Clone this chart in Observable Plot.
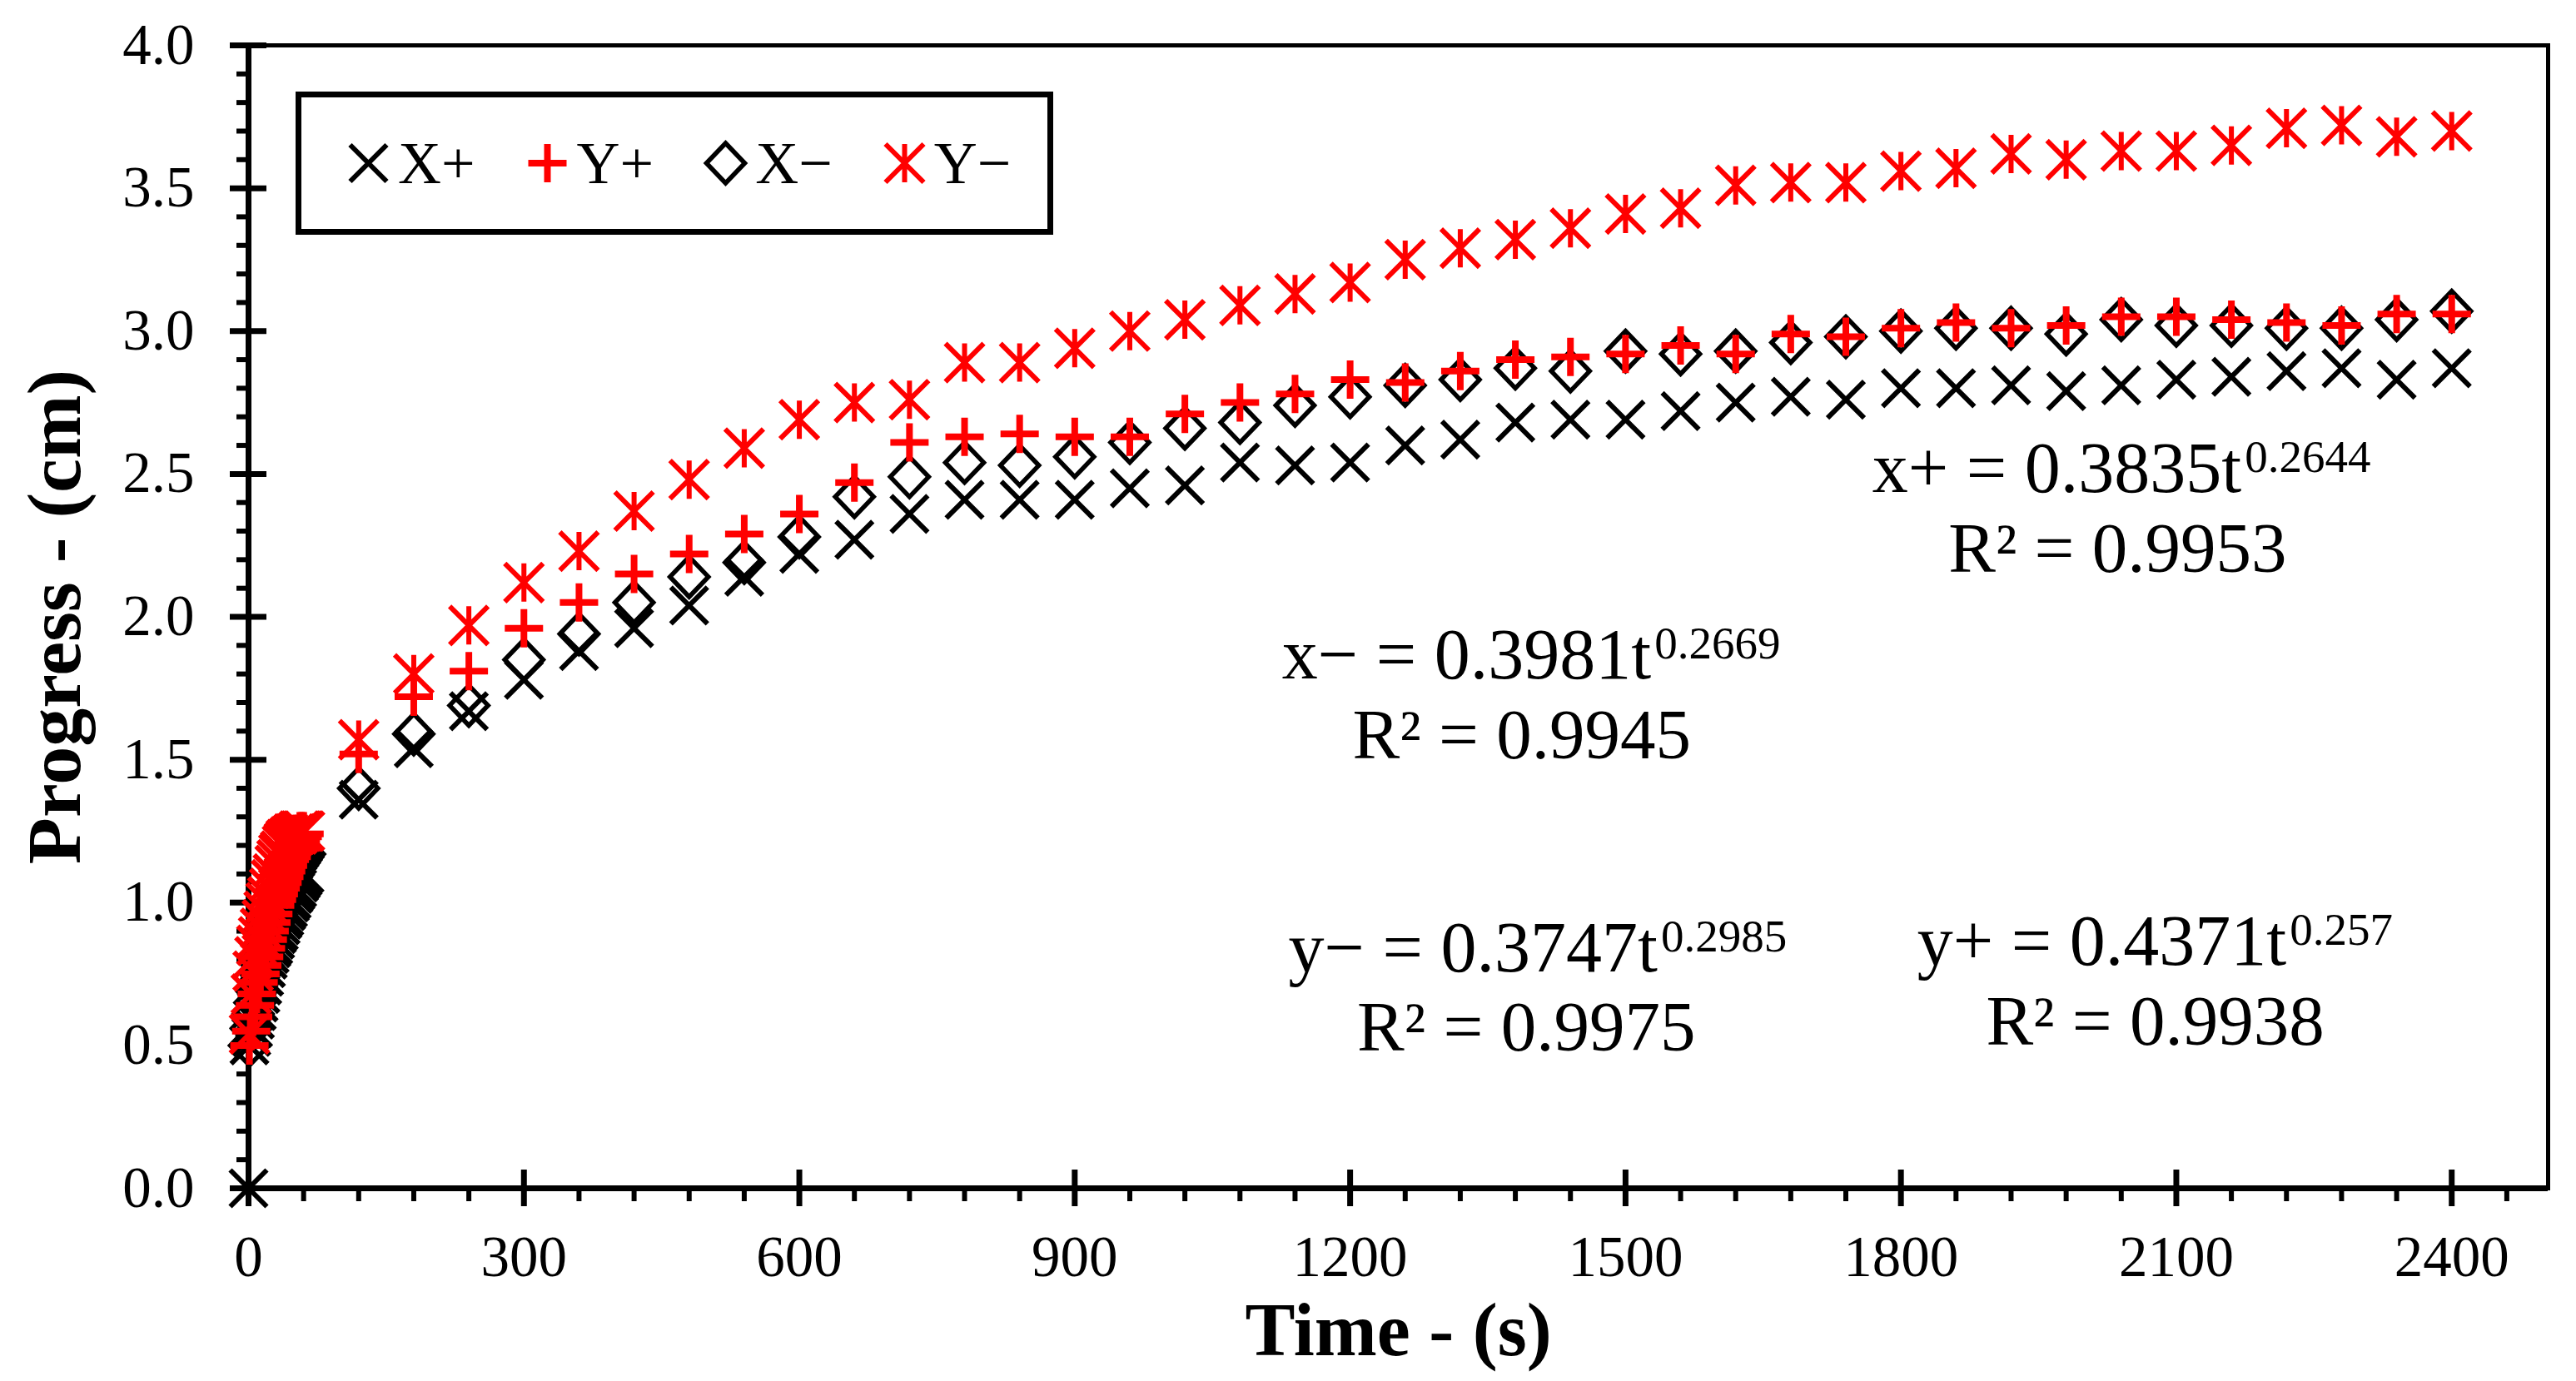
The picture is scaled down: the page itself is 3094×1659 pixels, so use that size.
<!DOCTYPE html>
<html>
<head>
<meta charset="utf-8">
<script src="https://cdn.jsdelivr.net/npm/d3@7"></script>
<script src="https://cdn.jsdelivr.net/npm/@observablehq/plot@0.6"></script>
<style>
  html, body { margin: 0; padding: 0; background: #fff; }
  #chart { position: relative; width: 3094px; height: 1659px; }
  #chart > svg { position: absolute; left: 0; top: 0; }
  #legend {
    position: absolute; left: 355px; top: 110px; width: 910px; height: 172px;
    box-sizing: border-box; border: 7px solid #000; background: #fff; z-index: 1;
    display: flex; align-items: center; padding-left: 58px;
    font-family: 'Liberation Serif', 'Times New Roman', Times, serif; font-size: 72px; color: #000;
  }
  #legend .item { display: flex; align-items: center; margin-right: 64px; }
  #legend .item svg { width: 45px; height: 50px; margin-right: 13px; overflow: visible; }
</style>
</head>
<body>
<div id="chart"><div id="legend"></div></div>
<script>
// Sampling times (s): every 2 s at the start, then one reading per minute
const time = [0,
  1, 3, 5, 7, 9, 11, 13, 15, 17, 19, 21, 23, 25, 27, 29, 31, 33, 35, 37, 39, 41, 43, 45, 47, 49, 51, 53, 55, 57, 59, 61,
  120, 180, 240, 300, 360, 420, 480, 540, 600, 660, 720, 780, 840, 900, 960, 1020, 1080,
  1140, 1200, 1260, 1320, 1380, 1440, 1500, 1560, 1620, 1680, 1740, 1800, 1860, 1920,
  1980, 2040, 2100, 2160, 2220, 2280, 2340, 2400];

// Progress (cm) in each direction
const xPlus = [0,
  0.50, 0.53, 0.56, 0.59, 0.62, 0.65, 0.68, 0.71, 0.74, 0.77, 0.80, 0.82, 0.84, 0.85, 0.87, 0.89,
  0.90, 0.92, 0.94, 0.95, 0.97, 0.98, 1.00, 1.01, 1.03, 1.04, 1.05, 1.07, 1.08, 1.09, 1.10,
  1.36, 1.54, 1.67, 1.78, 1.88, 1.96, 2.04, 2.14, 2.22, 2.27, 2.36, 2.41, 2.41, 2.41, 2.45, 2.46, 2.54,
  2.53, 2.54, 2.60, 2.62, 2.68, 2.69, 2.69, 2.72, 2.75, 2.77, 2.76, 2.80, 2.80, 2.81,
  2.79, 2.81, 2.83, 2.84, 2.86, 2.87, 2.83, 2.87];
const yPlus = [null,
  0.50, 0.55, 0.60, 0.64, 0.68, 0.72, 0.75, 0.78, 0.81, 0.84, 0.87, 0.90, 0.93, 0.96, 0.99, 1.01,
  1.03, 1.05, 1.07, 1.09, 1.11, 1.13, 1.15, 1.16, 1.18, 1.19, 1.20, 1.21, 1.22, 1.23, 1.24,
  1.52, 1.72, 1.81, 1.96, 2.05, 2.15, 2.22, 2.29, 2.36, 2.47, 2.61, 2.63, 2.64, 2.63, 2.63, 2.71, 2.75,
  2.78, 2.83, 2.82, 2.86, 2.90, 2.91, 2.92, 2.95, 2.92, 2.99, 2.98, 3.01, 3.03, 3.01,
  3.02, 3.05, 3.05, 3.04, 3.03, 3.02, 3.06, 3.06];
const xMinus = [null,
  0.50, 0.56, 0.61, 0.65, 0.69, 0.72, 0.75, 0.78, 0.81, 0.84, 0.86, 0.88, 0.91, 0.93, 0.95, 0.97,
  0.99, 1.01, 1.03, 1.04, 1.06, 1.07, 1.09, 1.10, 1.11, 1.12, 1.13, 1.14, 1.15, 1.16, 1.17,
  1.40, 1.59, 1.69, 1.85, 1.94, 2.05, 2.14, 2.19, 2.28, 2.42, 2.49, 2.54, 2.53, 2.56, 2.61, 2.66, 2.68,
  2.74, 2.77, 2.81, 2.83, 2.87, 2.86, 2.93, 2.92, 2.93, 2.96, 2.98, 3.00, 3.01, 3.01,
  2.99, 3.04, 3.02, 3.02, 3.01, 3.01, 3.04, 3.07];
const yMinus = [null,
  0.54, 0.68, 0.76, 0.81, 0.85, 0.88, 0.91, 0.94, 0.97, 1.00, 1.02, 1.05, 1.08, 1.10, 1.13, 1.15,
  1.17, 1.18, 1.20, 1.21, 1.22, 1.22, 1.23, 1.23, 1.24, 1.24, 1.24, 1.25, 1.25, 1.25, 1.25,
  1.57, 1.80, 1.97, 2.12, 2.23, 2.37, 2.48, 2.59, 2.69, 2.75, 2.76, 2.89, 2.89, 2.94, 3.00, 3.04, 3.09,
  3.13, 3.17, 3.25, 3.29, 3.32, 3.36, 3.41, 3.43, 3.51, 3.52, 3.52, 3.56, 3.57, 3.62,
  3.60, 3.63, 3.63, 3.65, 3.71, 3.72, 3.68, 3.70];

// Axis ticks
const xTicks = [0, 300, 600, 900, 1200, 1500, 1800, 2100, 2400];
const yTicks = [0, 0.5, 1.0, 1.5, 2.0, 2.5, 3.0, 3.5, 4.0];
const xMinorTicks = d3.range(60, 2500, 60).filter(t => t % 300 !== 0);
const yMinorTicks = d3.range(1, 40).filter(k => k % 5 !== 0).map(k => k / 10);

// Power-law fit labels
const fitFormula = ["x+ = 0.3835t", "x\u2212 = 0.3981t", "y\u2212 = 0.3747t", "y+ = 0.4371t"];
const fitPower = ["0.2644", "0.2669", "0.2985", "0.257"];
const fitR2 = ["R\u00b2 = 0.9953", "R\u00b2 = 0.9945", "R\u00b2 = 0.9975", "R\u00b2 = 0.9938"];
// where each label sits, in (s, cm)
const fitAt = [
  {t: 2171, v: 2.438, rt: 2036, rv: 2.156},
  {t: 1528, v: 1.783, rt: 1387, rv: 1.506},
  {t: 1535, v: 0.758, rt: 1392, rv: 0.482},
  {t: 2220, v: 0.783, rt: 2077, rv: 0.504}
];

// Marker shapes (size follows Plot's r*r*PI convention)
const half = size => Math.sqrt(size / Math.PI);
const crossMark = {draw(c, size) { const s = half(size);
  c.moveTo(-s, -s); c.lineTo(s, s); c.moveTo(-s, s); c.lineTo(s, -s); }};
const plusMark = {draw(c, size) { const s = half(size);
  c.moveTo(-s, 0); c.lineTo(s, 0); c.moveTo(0, -s); c.lineTo(0, s); }};
const diamondMark = {draw(c, size) { const s = half(size), w = s * 0.96;
  c.moveTo(0, -s); c.lineTo(w, 0); c.lineTo(0, s); c.lineTo(-w, 0); c.closePath(); }};
const starMark = {draw(c, size) { const s = half(size);
  c.moveTo(-s, -s); c.lineTo(s, s); c.moveTo(-s, s); c.lineTo(s, -s);
  c.moveTo(0, -s); c.lineTo(0, s); }};

const series = [
  {label: "X+", values: xPlus, symbol: crossMark, color: "#000", r: 22, width: 6},
  {label: "Y+", values: yPlus, symbol: plusMark, color: "#ff0000", r: 23, width: 8},
  {label: "X\u2212", values: xMinus, symbol: diamondMark, color: "#000", r: 24, width: 5.5},
  {label: "Y\u2212", values: yMinus, symbol: starMark, color: "#ff0000", r: 23, width: 6}
];
const rowsOf = vals => time.map((t, i) => ({t, v: vals[i]})).filter(d => d.v != null);
const drawOrder = [0, 2, 1, 3];

const fits = fitFormula.map((f, i) => ({formula: f, power: fitPower[i], r2: fitR2[i], ...fitAt[i]}));

const serif = "'Liberation Serif', 'Times New Roman', Times, serif";

const chart = Plot.plot({
  width: 3094,
  height: 1659,
  marginLeft: 298,
  marginRight: 34,
  marginTop: 54,
  marginBottom: 232,
  style: {fontFamily: serif, fontSize: "69px", color: "#000", background: "#fff", overflow: "visible"},
  x: {domain: [0, 2505], label: null},
  y: {domain: [0, 4], label: null},
  marks: [
    Plot.frame({stroke: "#000", strokeWidth: 5}),
    // minor ticks, outside
    Plot.axisX(xMinorTicks, {tickSize: 16, strokeWidth: 6, fill: "none", label: null}),
    Plot.axisY(yMinorTicks, {tickSize: 14, strokeWidth: 6, fill: "none", label: null}),
    // major ticks, crossing the axis line
    Plot.axisX(xTicks, {tickSize: 44, dy: -22, strokeWidth: 7, fill: "none", label: null}),
    Plot.axisY(yTicks, {tickSize: 44, dx: 22, strokeWidth: 7, fill: "none", label: null}),
    // tick labels
    Plot.axisX(xTicks, {tickSize: 0, tickPadding: 56, tickFormat: d3.format("d"), fontSize: 69, label: null}),
    Plot.axisY(yTicks, {tickSize: 0, tickPadding: 65, tickFormat: d3.format(".1f"), fontSize: 69, label: null}),
    // axis lines
    Plot.ruleX([0], {stroke: "#000", strokeWidth: 7}),
    Plot.ruleY([0], {stroke: "#000", strokeWidth: 7}),
    // measured progress
    ...drawOrder.map(k => {
      const s = series[k];
      return Plot.dot(rowsOf(s.values), {
        x: "t", y: "v", symbol: s.symbol, r: s.r,
        fill: "none", stroke: s.color, strokeWidth: s.width
      });
    }),
    // fit equations
    Plot.text(fits, {x: "t", y: "v", text: "formula", textAnchor: "end", lineAnchor: "bottom", fontSize: 86, fill: "#000"}),
    Plot.text(fits, {x: "t", y: "v", text: "power", textAnchor: "start", lineAnchor: "bottom", fontSize: 55, dx: 4, dy: -24, fill: "#000"}),
    Plot.text(fits, {x: "rt", y: "rv", text: "r2", textAnchor: "middle", lineAnchor: "bottom", fontSize: 85, fill: "#000"}),
    // axis titles
    Plot.text(["Time - (s)"], {text: d => d, frameAnchor: "bottom", textAnchor: "middle", lineAnchor: "bottom", dy: 200,
      fontSize: 90, fontWeight: "bold", fill: "#000"}),
    Plot.text(["Progress - (cm)"], {text: d => d, frameAnchor: "left", textAnchor: "middle", rotate: -90, lineAnchor: "bottom", dx: -203,
      fontSize: 92, fontWeight: "bold", fill: "#000"})
  ]
});

const host = document.getElementById("chart");
host.insertBefore(chart, host.firstChild);

// Legend box
const legend = d3.select("#legend");
for (const s of series) {
  const item = legend.append("div").attr("class", "item");
  const svg = item.append("svg").attr("viewBox", "-22.5 -25 45 50");
  svg.append("path")
    .attr("d", d3.symbol(s.symbol, Math.PI * s.r * s.r)())
    .attr("fill", "none")
    .attr("stroke", s.color)
    .attr("stroke-width", s.width);
  item.append("span").text(s.label);
}
</script>
</body>
</html>
